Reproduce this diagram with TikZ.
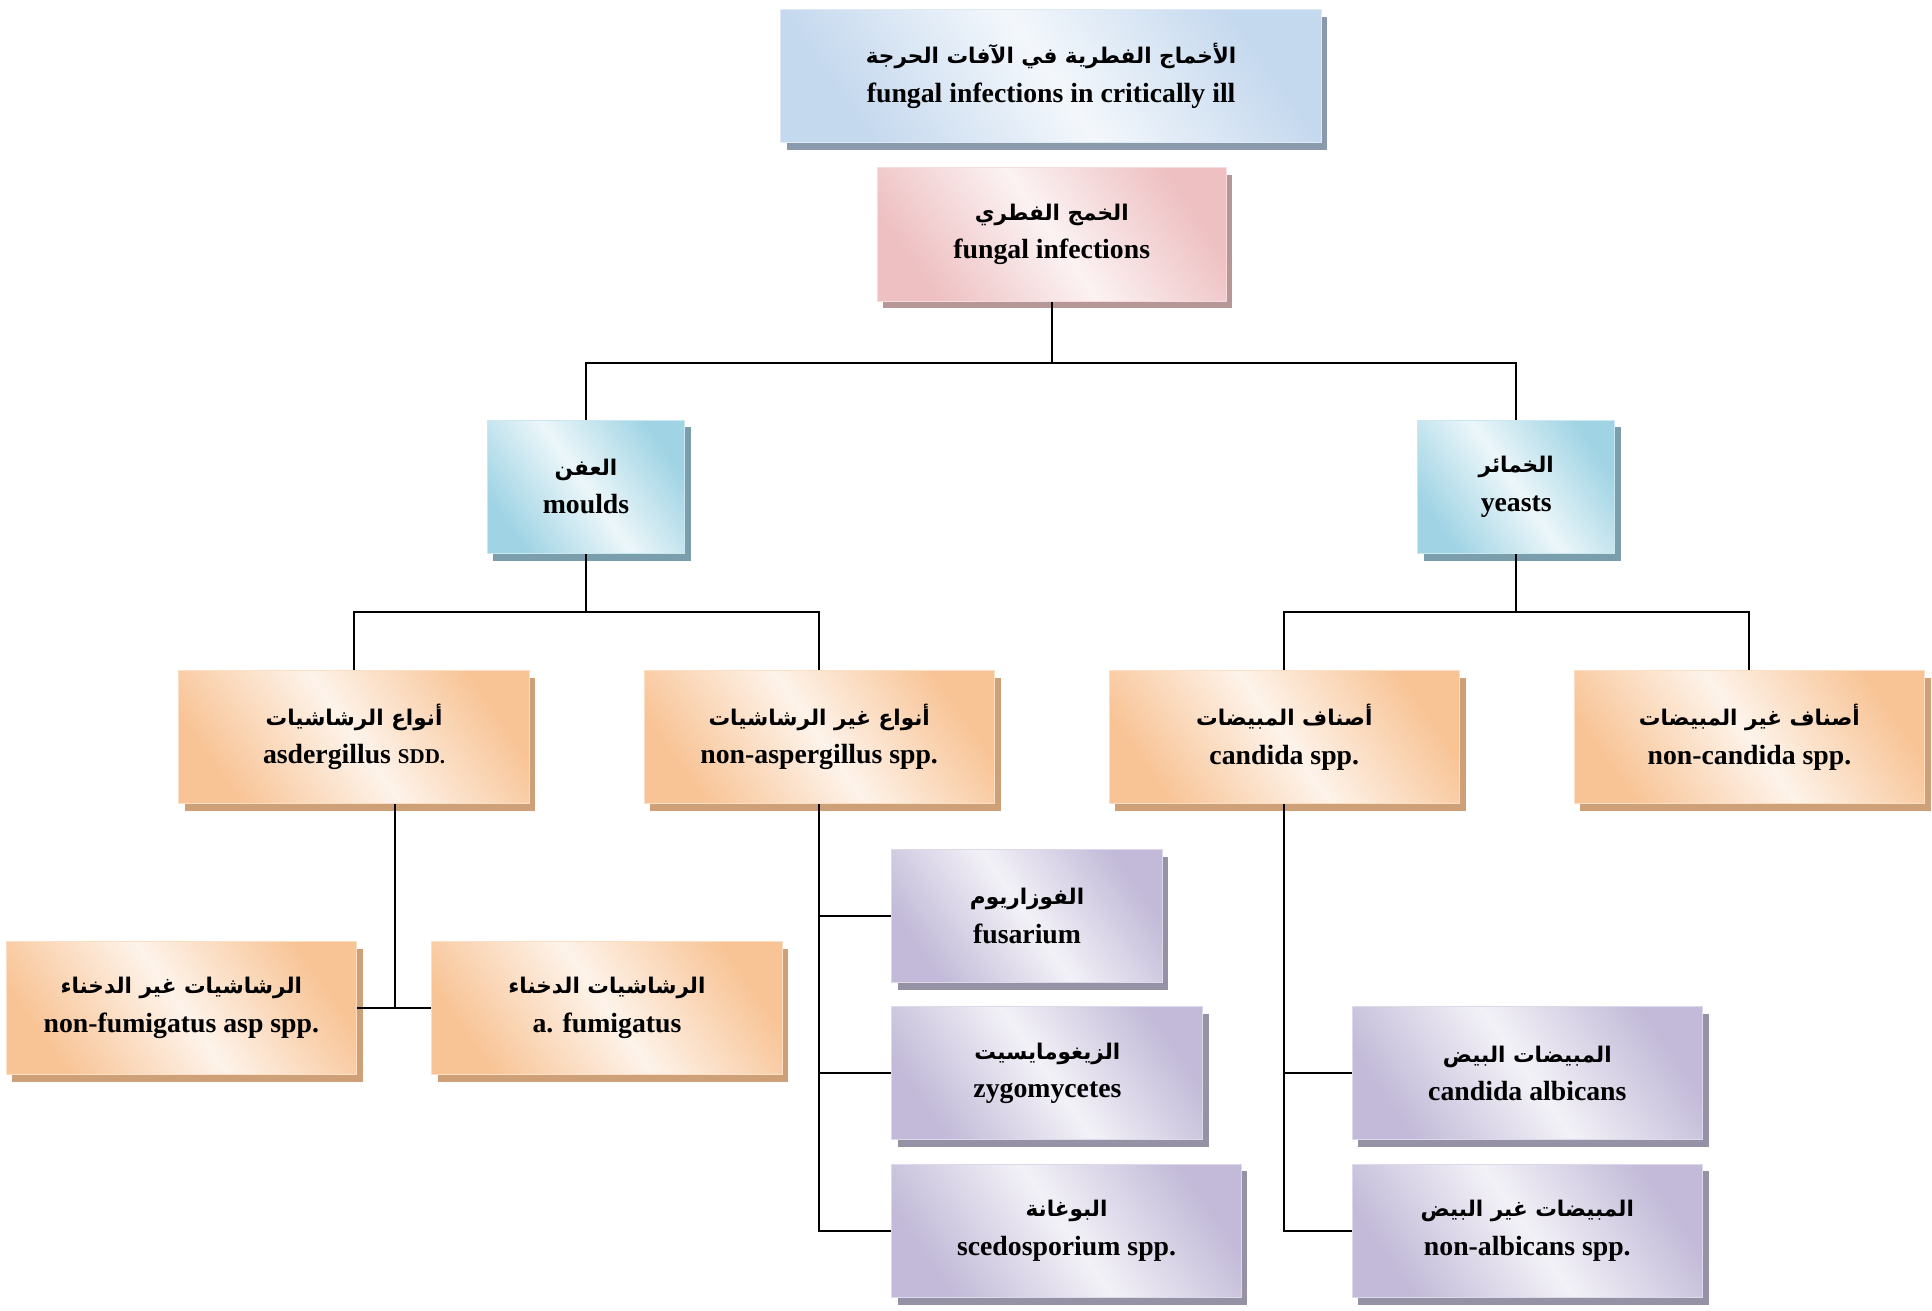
\documentclass[tikz,border=0pt]{standalone}
\usepackage{fontspec}
\setmainfont{Liberation Serif}
\newfontfamily\arabicfont[Script=Arabic]{DejaVu Sans}
\TeXXeTstate=1
\usetikzlibrary{shadows}

\definecolor{topblue}{RGB}{196,216,238}
\definecolor{topshade}{RGB}{138,154,172}
\definecolor{rootpink}{RGB}{238,192,194}
\definecolor{rootshade}{RGB}{182,150,150}
\definecolor{groupcyan}{RGB}{160,212,228}
\definecolor{groupshade}{RGB}{122,158,172}
\definecolor{typeorange}{RGB}{248,196,150}
\definecolor{typeshade}{RGB}{206,160,120}
\definecolor{genuspurple}{RGB}{194,186,216}
\definecolor{genusshade}{RGB}{150,146,166}

\newcommand\arab[1]{{\arabicfont\fontsize{17.5}{31}\selectfont\beginR #1\endR}}

\tikzset{
	card/.style 2 args={rectangle, align=center, inner sep=0pt,
		minimum height=108pt, draw=white!45!#1, line width=0.8pt,
		left color=#1, right color=#1, middle color=white!80!#1,
		shading angle=125,
		drop shadow={shadow xshift=5pt, shadow yshift=-6pt, fill=#2, opacity=1},
		font=\fontsize{22.5}{31}\selectfont\bfseries},
	link/.style={line width=1.6pt}
}

\begin{document}
\begin{tikzpicture}[x=1pt, y=-1pt]
	\useasboundingbox (0,0) rectangle (1566,1062);
	% top of the tree
	\node [card={topblue}{topshade}, minimum width=438pt] (ill) at (852,61.5)
		{ \arab{الأخماج الفطرية في الآفات الحرجة}\\fungal infections in critically ill };
	\node [card={rootpink}{rootshade}, minimum width=283pt] (fungal) at (852.5,190)
		{ \arab{الخمج الفطري}\\fungal infections };
	\node [card={groupcyan}{groupshade}, minimum width=160pt] (moulds) at (475,394.5)
		{ \arab{العفن}\\moulds };
	\node [card={groupcyan}{groupshade}, minimum width=160pt] (yeasts) at (1229,394.5)
		{ \arab{الخمائر}\\yeasts };
	% kinds
	\node [card={typeorange}{typeshade}, minimum width=284pt] (asp) at (287,597.5)
		{ \arab{أنواع الرشاشيات}\\asdergillus {\fontsize{17}{31}\selectfont SDD.} };
	\node [card={typeorange}{typeshade}, minimum width=284pt] (nonasp) at (664,597.5)
		{ \arab{أنواع غير الرشاشيات}\\non-aspergillus spp. };
	\node [card={typeorange}{typeshade}, minimum width=284pt] (cand) at (1041,597.5)
		{ \arab{أصناف المبيضات}\\candida spp. };
	\node [card={typeorange}{typeshade}, minimum width=284pt] (noncand) at (1418,597.5)
		{ \arab{أصناف غير المبيضات}\\non-candida spp. };
	\node [card={typeorange}{typeshade}, minimum width=284pt] (nonfumi) at (147,817)
		{ \arab{الرشاشيات غير الدخناء}\\non-fumigatus asp spp. };
	\node [card={typeorange}{typeshade}, minimum width=284pt] (fumi) at (492,817)
		{ \arab{الرشاشيات الدخناء}\\a. fumigatus };
	% genera
	\node [card={genuspurple}{genusshade}, minimum width=219pt] (fusa) at (832.5,742.5)
		{ \arab{الفوزاريوم}\\fusarium };
	\node [card={genuspurple}{genusshade}, minimum width=252pt] (zygo) at (849,870)
		{ \arab{الزيغومايسيت}\\zygomycetes };
	\node [card={genuspurple}{genusshade}, minimum width=283pt] (scedo) at (864.5,997.5)
		{ \arab{البوغانة}\\scedosporium spp. };
	\node [card={genuspurple}{genusshade}, minimum width=284pt] (albi) at (1238,870)
		{ \arab{المبيضات البيض}\\candida albicans };
	\node [card={genuspurple}{genusshade}, minimum width=284pt] (nonalbi) at (1238,997.5)
		{ \arab{المبيضات غير البيض}\\non-albicans spp. };
	% connectors
	\draw [link] (fungal.south) -- ++(0,50) coordinate (fungalbus);
	\draw [link] (moulds.north) |- (fungalbus) -| (yeasts.north);
	\draw [link] (moulds.south) -- ++(0,47) coordinate (mouldsbus);
	\draw [link] (asp.north) |- (mouldsbus) -| (nonasp.north);
	\draw [link] (yeasts.south) -- ++(0,47) coordinate (yeastsbus);
	\draw [link] (cand.north) |- (yeastsbus) -| (noncand.north);
	\coordinate (aspfork) at ([xshift=33pt]asp.south);
	\draw [link] (aspfork) -- (aspfork |- fumi.west);
	\draw [link] (nonfumi.east) -- (fumi.west);
	\foreach \leaf in {fusa,zygo,scedo}
		\draw [link] (nonasp.south) |- (\leaf.west);
	\foreach \leaf in {albi,nonalbi}
		\draw [link] (cand.south) |- (\leaf.west);
\end{tikzpicture}
\end{document}
